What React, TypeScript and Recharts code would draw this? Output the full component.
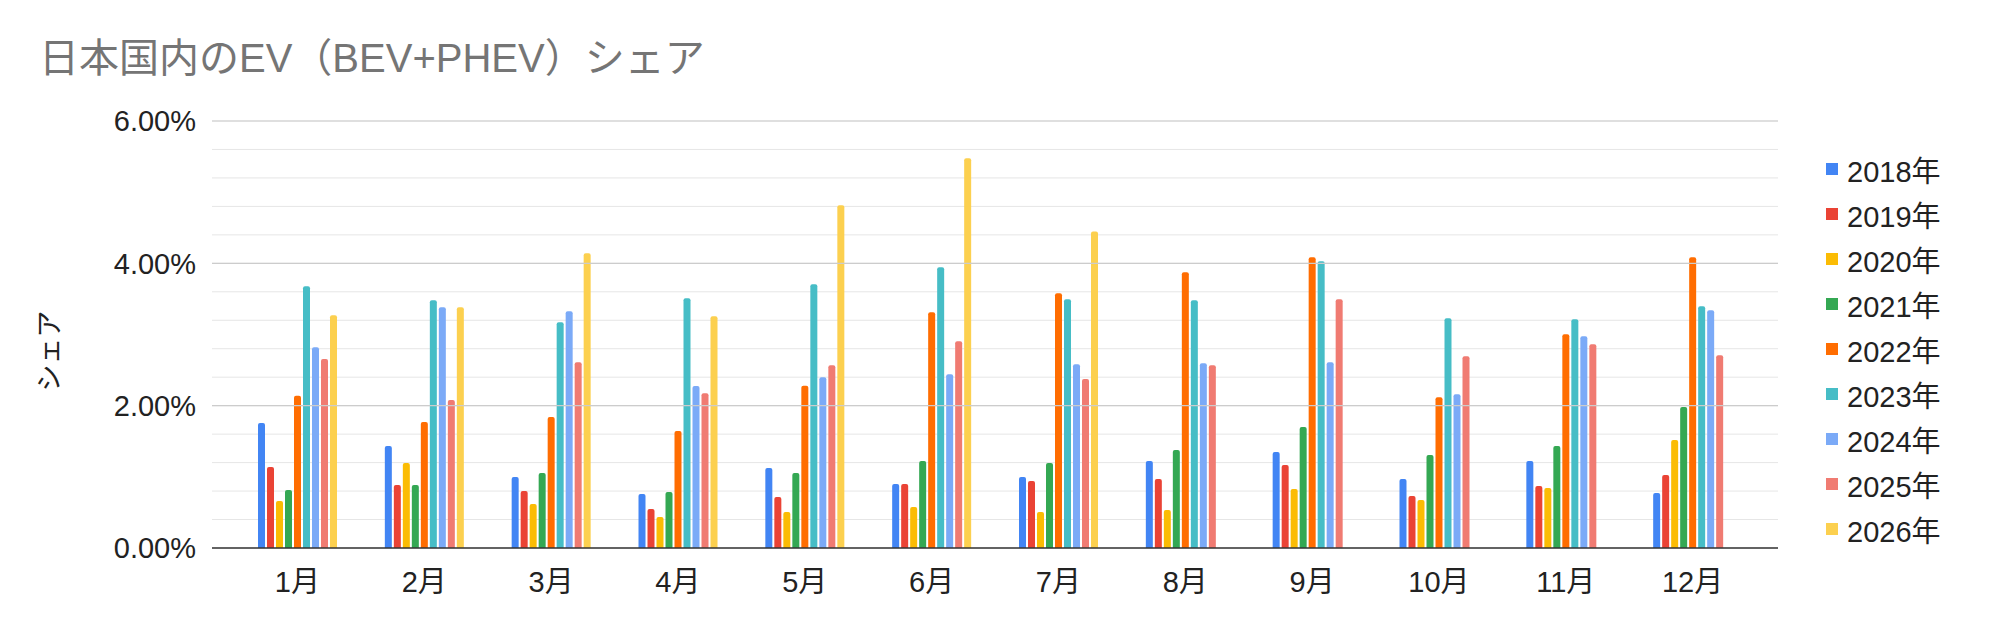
import React from 'react';
import { Bar, BarChart, CartesianGrid, Legend, ReferenceLine, XAxis, YAxis } from 'recharts';

const months = ['1月', '2月', '3月', '4月', '5月', '6月', '7月', '8月', '9月', '10月', '11月', '12月'];

// share in percent
const y2018 = [1.755, 1.432, 0.997, 0.758, 1.123, 0.899, 0.997, 1.221, 1.348, 0.969, 1.221, 0.772];
const y2019 = [1.137, 0.885, 0.8, 0.548, 0.716, 0.899, 0.941, 0.969, 1.165, 0.73, 0.87, 1.025];
const y2020 = [0.66, 1.193, 0.618, 0.435, 0.505, 0.576, 0.505, 0.534, 0.828, 0.674, 0.842, 1.516];
const y2021 = [0.814, 0.885, 1.053, 0.786, 1.053, 1.221, 1.193, 1.376, 1.699, 1.306, 1.432, 1.98];
const y2022 = [2.139, 1.769, 1.839, 1.643, 2.279, 3.314, 3.58, 3.875, 4.086, 2.12, 3.005, 4.086];
const y2023 = [3.679, 3.482, 3.173, 3.51, 3.707, 3.945, 3.496, 3.482, 4.03, 3.229, 3.215, 3.398];
const y2024 = [2.822, 3.384, 3.328, 2.275, 2.401, 2.443, 2.583, 2.597, 2.611, 2.162, 2.977, 3.342];
const y2025 = [2.654, 2.078, 2.611, 2.176, 2.569, 2.906, 2.373, 2.569, 3.496, 2.696, 2.864, 2.71];
const y2026 = [3.271, 3.384, 4.142, 3.257, 4.816, 5.476, 4.446, null, null, null, null, null];

const yTicks = [0, 0.4, 0.8, 1.2, 1.6, 2, 2.4, 2.8, 3.2, 3.6, 4, 4.4, 4.8, 5.2, 5.6, 6];
const yMajor = [0, 2, 4, 6];

const series = [
  { key: 'y2018', name: '2018年', values: y2018, color: '#4285f4' },
  { key: 'y2019', name: '2019年', values: y2019, color: '#ea4335' },
  { key: 'y2020', name: '2020年', values: y2020, color: '#fbbc04' },
  { key: 'y2021', name: '2021年', values: y2021, color: '#34a853' },
  { key: 'y2022', name: '2022年', values: y2022, color: '#ff6d01' },
  { key: 'y2023', name: '2023年', values: y2023, color: '#46bdc6' },
  { key: 'y2024', name: '2024年', values: y2024, color: '#7baaf7' },
  { key: 'y2025', name: '2025年', values: y2025, color: '#f07b72' },
  { key: 'y2026', name: '2026年', values: y2026, color: '#fcd04f' },
];

const data = months.map((month, i) => {
  const row: Record<string, string | number | null> = { month };
  series.forEach((s) => (row[s.key] = s.values[i]));
  return row;
});

const FONT = "'Liberation Sans', Arial, 'Noto Sans CJK JP', sans-serif";

function LegendBox() {
  return (
    <div style={{ paddingLeft: 48, fontFamily: FONT }}>
      {series.map((s) => (
        <div key={s.key} style={{ height: 45, display: 'flex', alignItems: 'center' }}>
          <span style={{ width: 12, height: 12, background: s.color, marginRight: 9 }} />
          <span style={{ fontSize: 29, color: '#222' }}>{s.name}</span>
        </div>
      ))}
    </div>
  );
}

export default function App() {
  return (
    <div style={{ position: 'relative', width: 2002, height: 630, background: '#fff' }}>
      <style>{'body{margin:0}'}</style>
      <svg width={2002} height={90} style={{ position: 'absolute', left: 0, top: 0 }}>
        <text x={39} y={72} fontSize={40} fill="#757575" fontFamily={FONT}>
          日本国内のEV（BEV+PHEV）シェア
        </text>
      </svg>
      <BarChart
        width={2002}
        height={630}
        data={data}
        margin={{ top: 121, right: 48, bottom: 42, left: 112 }}
        barSize={7}
        barGap={2}
        style={{ fontFamily: FONT }}
      >
        <CartesianGrid vertical={false} stroke="#e6e6e6" strokeWidth={1} />
        {yMajor.slice(1).map((v) => (
          <ReferenceLine key={v} y={v} stroke="#cccccc" strokeWidth={1.2} />
        ))}
        <XAxis
          dataKey="month"
          padding={{ left: 22, right: 22 }}
          height={40}
          tickLine={false}
          tickSize={0}
          tickMargin={23}
          axisLine={{ stroke: '#333', strokeWidth: 1.5 }}
          tick={{ fontSize: 29, fill: '#222' }}
          interval={0}
        />
        <YAxis
          width={100}
          domain={[0, 6]}
          ticks={yTicks}
          interval={0}
          axisLine={false}
          tickLine={false}
          tickSize={0}
          tickMargin={16}
          tick={{ fontSize: 29, fill: '#222' }}
          tickFormatter={(v: number) => (yMajor.includes(v) ? `${v.toFixed(2)}%` : '')}
          label={{
            content: () => (
              <text
                x={50}
                y={351}
                transform="rotate(-90 50 351)"
                textAnchor="middle"
                dominantBaseline="central"
                fontSize={27}
                fill="#222"
                fontFamily={FONT}
              >
                シェア
              </text>
            ),
          }}
        />
        <Legend
          layout="vertical"
          align="right"
          verticalAlign="top"
          content={() => <LegendBox />}
          wrapperStyle={{ top: 146.5, width: 176 }}
        />
        {series.map((s) => (
          <Bar
            key={s.key}
            dataKey={s.key}
            name={s.name}
            fill={s.color}
            radius={[2, 2, 0, 0]}
            isAnimationActive={false}
          />
        ))}
      </BarChart>
    </div>
  );
}
